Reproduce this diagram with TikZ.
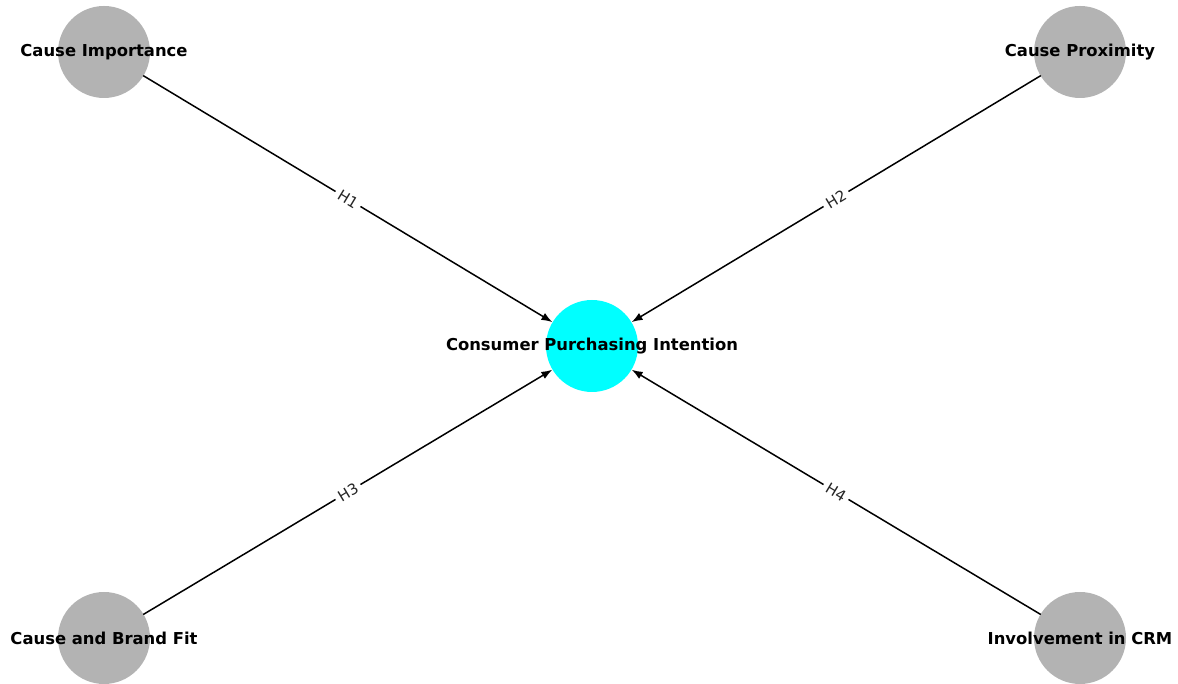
\documentclass[tikz,border=0pt]{standalone}
\usepackage{fontspec}
\setmainfont{DejaVu Sans}
\usetikzlibrary{arrows.meta}
\definecolor{factorgray}{RGB}{179,179,179}
\definecolor{targetcyan}{RGB}{0,255,255}
\begin{document}
\begin{tikzpicture}[x=1pt, y=1pt, line join=round, line cap=round,
	factor/.style={circle, fill=factorgray, minimum size=92pt, inner sep=0pt},
	target/.style={circle, fill=targetcyan, minimum size=92pt, inner sep=0pt},
	factorlabel/.style={font=\fontsize{16.4}{18}\selectfont\bfseries, inner sep=0pt},
	hyp/.style={-{Latex[length=11pt,width=8pt]}, line width=1.5pt},
	tag/.style={font=\fontsize{15}{17}\selectfont, text=black!85, fill=white, inner sep=4pt, sloped, midway}]
	\useasboundingbox (0,0) rectangle (1178,684);
	% Faktoren an den Ecken, Zielgroesse in der Mitte
	\node[factor] (ci) at (104,632) {};
	\node[factor] (cp) at (1080,632) {};
	\node[factor] (cb) at (104,46) {};
	\node[factor] (inv) at (1080,46) {};
	\node[target] (cpi) at (592,338) {};
	\node[factorlabel] (ciT) at (ci) {Cause Importance};
	\node[factorlabel] (cpT) at (cp) {Cause Proximity};
	\node[factorlabel] (cbT) at (cb) {Cause and Brand Fit};
	\node[factorlabel] (invT) at (inv) {Involvement in CRM};
	\node[factorlabel] (cpiT) at (cpi) {Consumer Purchasing Intention};
	% Hypothesen
	\draw[hyp] (ci) -- (cpi) node[tag]{H1};
	\draw[hyp] (cp) -- (cpi) node[tag]{H2};
	\draw[hyp] (cb) -- (cpi) node[tag]{H3};
	\draw[hyp] (inv) -- (cpi) node[tag]{H4};
\end{tikzpicture}
\end{document}
